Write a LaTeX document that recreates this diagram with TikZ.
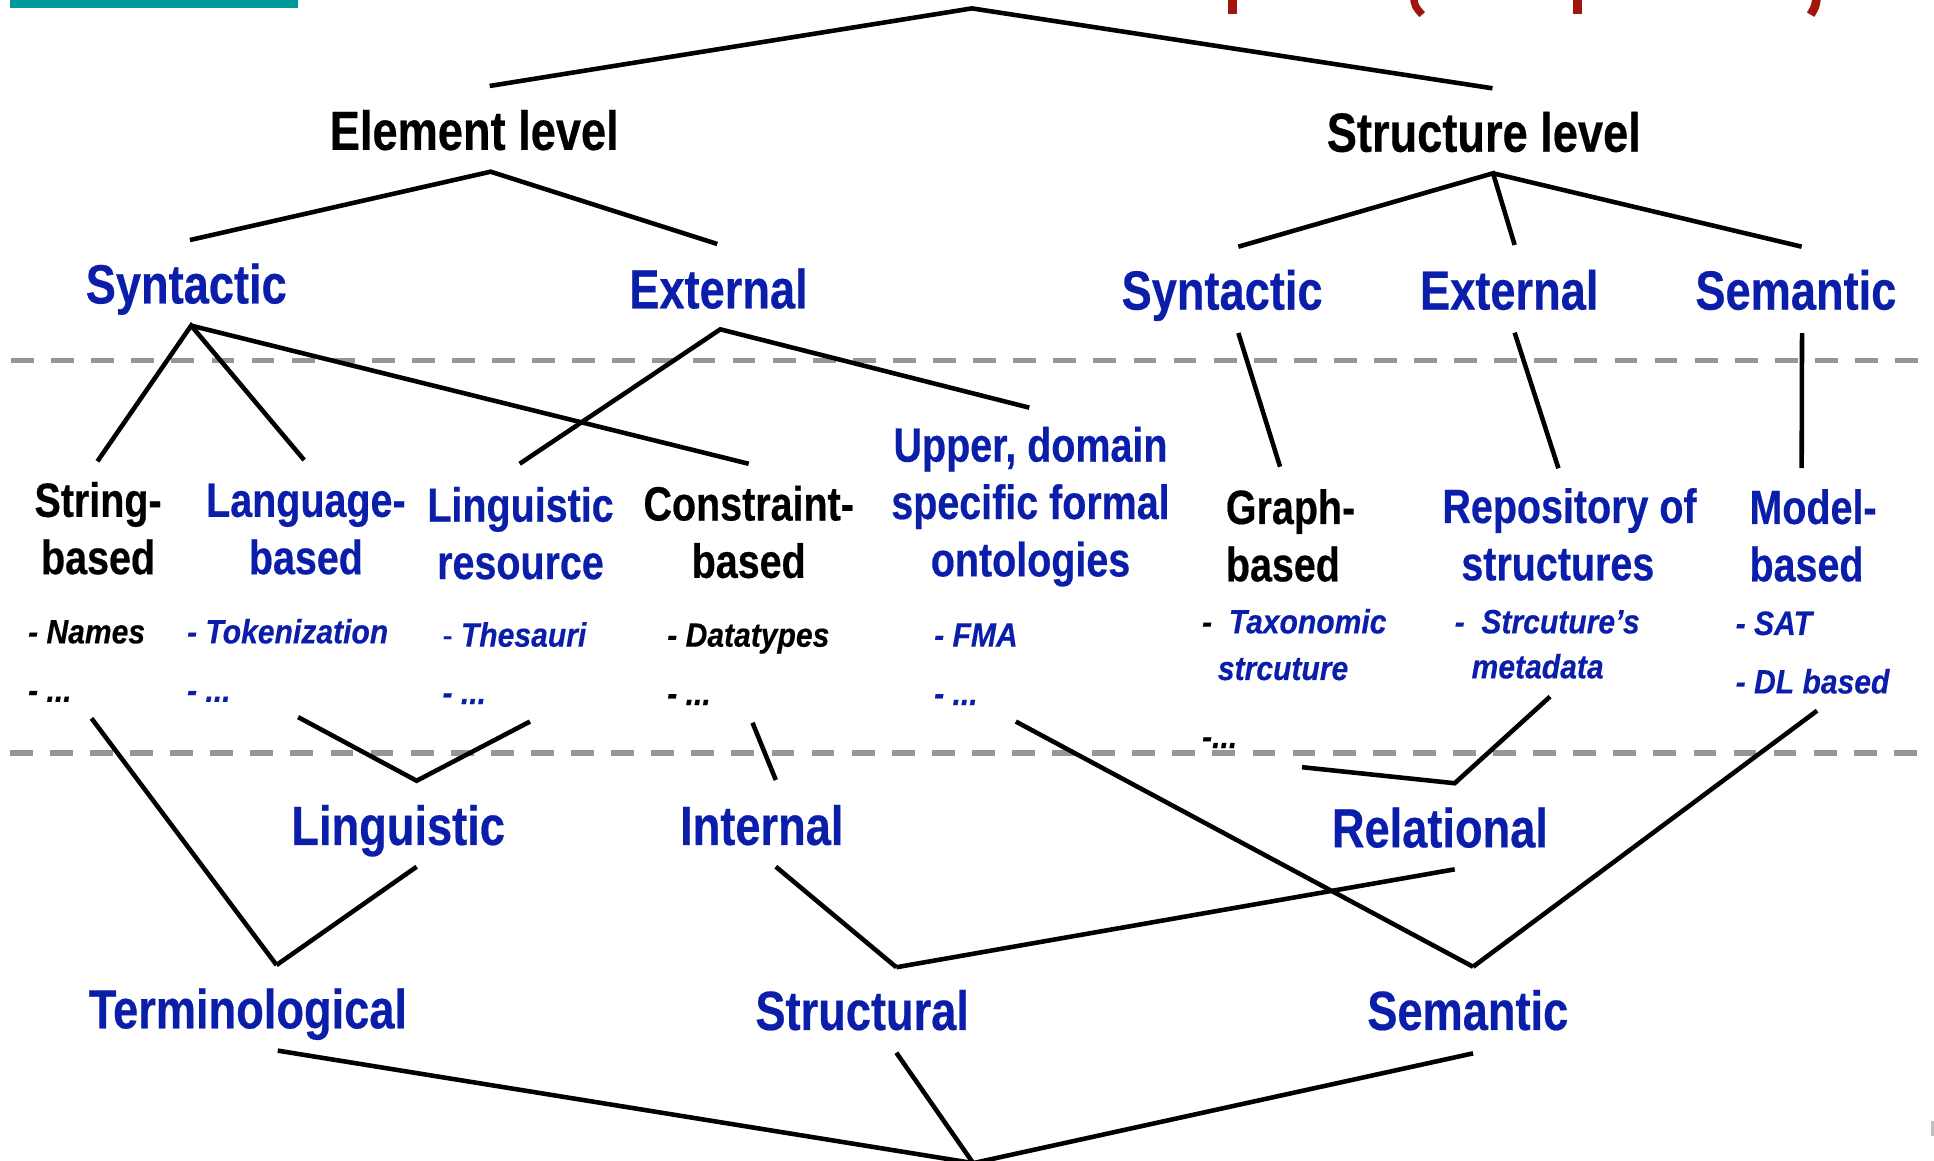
\documentclass[tikz,border=0pt]{standalone}
\usepackage{fontspec}
\newfontfamily\labfont{Liberation Sans}[FakeStretch=0.82,FakeBold=0.4]
\newfontfamily\itemfont{Liberation Sans}[FakeStretch=0.89,FakeBold=0.3]
\definecolor{lblue}{RGB}{10,30,170}
\definecolor{sepgrey}{RGB}{150,150,150}
\definecolor{barteal}{RGB}{0,153,153}
\definecolor{titlered}{RGB}{160,22,12}
\begin{document}
\begin{tikzpicture}[x=0.5pt,y=-0.5pt,
  link/.style={line width=1.85pt},
  sepline/.style={draw=sepgrey, line width=2.3pt, dash pattern=on 9.25pt off 7pt},
  head/.style={font=\labfont\bfseries\fontsize{22.35}{26}\selectfont, inner sep=0pt, anchor=base},
  sub/.style={font=\labfont\bfseries\fontsize{19.5}{23.25}\selectfont, inner sep=0pt, anchor=base},
  item/.style={font=\itemfont\bfseries\itshape\fontsize{13.7}{16}\selectfont, inner sep=0pt, anchor=base west},
  bl/.style={text=lblue}]
\useasboundingbox (0,0) rectangle (1568,941);
\fill[white] (0,0) rectangle (1568,941);
\clip (0,0) rectangle (1568,941);

% header remnants
\fill[barteal] (8,0) rectangle (242,6.2);
\draw[titlered, line width=3.5pt] (999,-3) -- (999,11.4);
\draw[titlered, line width=3pt] (1146,-3) .. controls (1147,5) .. (1153,11.9);
\draw[titlered, line width=3.5pt] (1279,-3) -- (1279,11.4);
\draw[titlered, line width=3.5pt] (1473,-3) .. controls (1472,5) .. (1468,11.9);

% level separators
\draw[sepline] (9,292.4) -- (1575,292.4);
\draw[sepline] (8,610.3) -- (1575,610.3);

% ---------- labels ----------
\node[head] (elem) at (384.5,121.5) {Element level};
\node[head] (struct) at (1203,123) {Structure level};

\node[head,bl] (esyn) at (151,246) {Syntactic};
\node[head,bl] (eext) at (582.5,250) {External};
\node[head,bl] (ssyn) at (990.8,251) {Syntactic};
\node[head,bl] (sext) at (1223.6,251) {External};
\node[head,bl] (ssem) at (1456,251) {Semantic};

\node[sub] (string) at (79.5,419) {\begin{tabular}[t]{@{}c@{}}String-\\based\end{tabular}};
\node[sub,bl] (lang) at (248,419) {\begin{tabular}[t]{@{}c@{}}Language-\\based\end{tabular}};
\node[sub,bl] (lres) at (422,423) {\begin{tabular}[t]{@{}c@{}}Linguistic\\resource\end{tabular}};
\node[sub] (constr) at (607,422) {\begin{tabular}[t]{@{}c@{}}Constraint-\\based\end{tabular}};
\node[sub,bl] (upper) at (835.5,374.3) {\begin{tabular}[t]{@{}c@{}}Upper, domain\\specific formal\\ontologies\end{tabular}};
\node[sub,anchor=base west] (graph) at (993.5,424.8) {\begin{tabular}[t]{@{}l@{}}Graph-\\based\end{tabular}};
\node[sub,bl] (repo) at (1272.5,424) {\begin{tabular}[t]{@{}c@{}}Repository of\\structures\hspace*{9.5pt}\end{tabular}};
\node[sub,bl,anchor=base west] (model) at (1418,424.8) {\begin{tabular}[t]{@{}l@{}}Model-\\based\end{tabular}};

% example entries
\node[item] (names) at (22.4,521.6) {- Names};
\node[item] (namesx) at (22.4,569) {- ...};
\node[item,bl] (tok) at (151.3,521.6) {- Tokenization};
\node[item,bl] (tokx) at (151.3,569) {- ...};
\node[item,bl] (thes) at (358.4,524.3) {{\upshape\mdseries -} Thesauri};
\node[item,bl] (thesx) at (358.4,570.8) {- ...};
\node[item] (dtype) at (540.6,524.3) {- Datatypes};
\node[item] (dtypex) at (540.6,571.6) {- ...};
\node[item,bl] (fma) at (757,524.3) {- FMA};
\node[item,bl] (fmax) at (757,571.6) {- ...};
\node[item,bl] (taxo) at (974.2,513.5) {{\color{black}-}\ \ Taxonomic};
\node[item,bl] (taxob) at (987,551.3) {strcuture};
\node[item] (taxox) at (974.2,606.5) {-...};
\node[item,bl] (meta) at (1179,513.5) {-\ \ Strcuture’s};
\node[item,bl] (metab) at (1192.7,550) {metadata};
\node[item,bl] (sat) at (1406.8,514.8) {- SAT};
\node[item,bl] (dl) at (1406.8,562.2) {- DL based};

\node[head,bl] (ling) at (322.8,685) {Linguistic};
\node[head,bl] (intl) at (617.6,685) {Internal};
\node[head,bl] (rel) at (1167.4,687) {Relational};
\node[head,bl] (term) at (201,833.7) {Terminological};
\node[head,bl] (strl) at (699,835) {Structural};
\node[head,bl] (sem) at (1190,835) {Semantic};

% ---------- connector ends ----------
\coordinate (root) at (788,6.8);
\coordinate (elemU) at (397,69.7);
\coordinate (structU) at (1210,71.6);
\coordinate (elemD) at (397.8,139.2);
\coordinate (esynU) at (154,194.6);
\coordinate (eextU) at (581.5,197.8);
\coordinate (structD) at (1210.5,140.5);
\coordinate (ssynU) at (1004,200);
\coordinate (sextU) at (1228,198.6);
\coordinate (ssemU) at (1460.7,200);

\coordinate (esynD) at (155,264);
\coordinate (eextD) at (584,267);
\coordinate (ssynD) at (1004,270);
\coordinate (sextD) at (1228,269.7);
\coordinate (ssemD) at (1461,270);

\coordinate (stringU) at (79,374);
\coordinate (langU) at (246.6,373);
\coordinate (lresU) at (421.3,376);
\coordinate (constrU) at (607,376);
\coordinate (upperU) at (834.5,330.5);
\coordinate (graphU) at (1037.8,378.4);
\coordinate (repoU) at (1263.5,379.7);
\coordinate (modelU) at (1460.7,379.5);

\coordinate (stringD) at (74.2,582.4);
\coordinate (langD) at (241.7,581.4);
\coordinate (lresD) at (429.7,585);
\coordinate (constrD) at (610.1,586);
\coordinate (upperD) at (823.6,585);
\coordinate (graphD) at (1055.6,622);
\coordinate (repoD) at (1256.7,564.8);
\coordinate (modelD) at (1473.2,576.2);

\coordinate (lingU) at (337.8,633);
\coordinate (intlU) at (629,632.4);
\coordinate (relU) at (1179.4,635);
\coordinate (lingD) at (337.8,702.7);
\coordinate (intlD) at (629,702.7);
\coordinate (relD) at (1179.4,704.8);

\coordinate (termU) at (224.2,782.4);
\coordinate (strlU) at (726.7,784.2);
\coordinate (semU) at (1194.3,783.8);
\coordinate (termD) at (225.2,851.8);
\coordinate (strlD) at (726.7,853.5);
\coordinate (semD) at (1194.3,854);
\coordinate (base) at (789,943);

% ---------- connectors ----------
\draw[link] (elemU) -- (root) -- (structU);
\draw[link] (esynU) -- (elemD) -- (eextU);
\draw[link] (ssynU) -- (structD) -- (sextU);
\draw[link] (structD) -- (ssemU);

\draw[link] (stringU) -- (esynD) -- (langU);
\draw[link] (esynD) -- (constrU);
\draw[link] (lresU) -- (eextD) -- (upperU);
\draw[link] (ssynD) -- (graphU);
\draw[link] (sextD) -- (repoU);
\draw[link] (ssemD) -- (modelU);

\draw[link] (stringD) -- (termU);
\draw[link] (langD) -- (lingU) -- (lresD);
\draw[link] (constrD) -- (intlU);
\draw[link] (upperD) -- (semU);
\draw[link] (graphD) -- (relU) -- (repoD);
\draw[link] (modelD) -- (semU);

\draw[link] (lingD) -- (termU);
\draw[link] (intlD) -- (strlU);
\draw[link] (relD) -- (strlU);

\draw[link] (termD) -- (base);
\draw[link] (strlD) -- (base);
\draw[link] (semD) -- (base);

% page edge mark
\fill[sepgrey!60] (1565.5,909) rectangle (1568,921);
\end{tikzpicture}
\end{document}
